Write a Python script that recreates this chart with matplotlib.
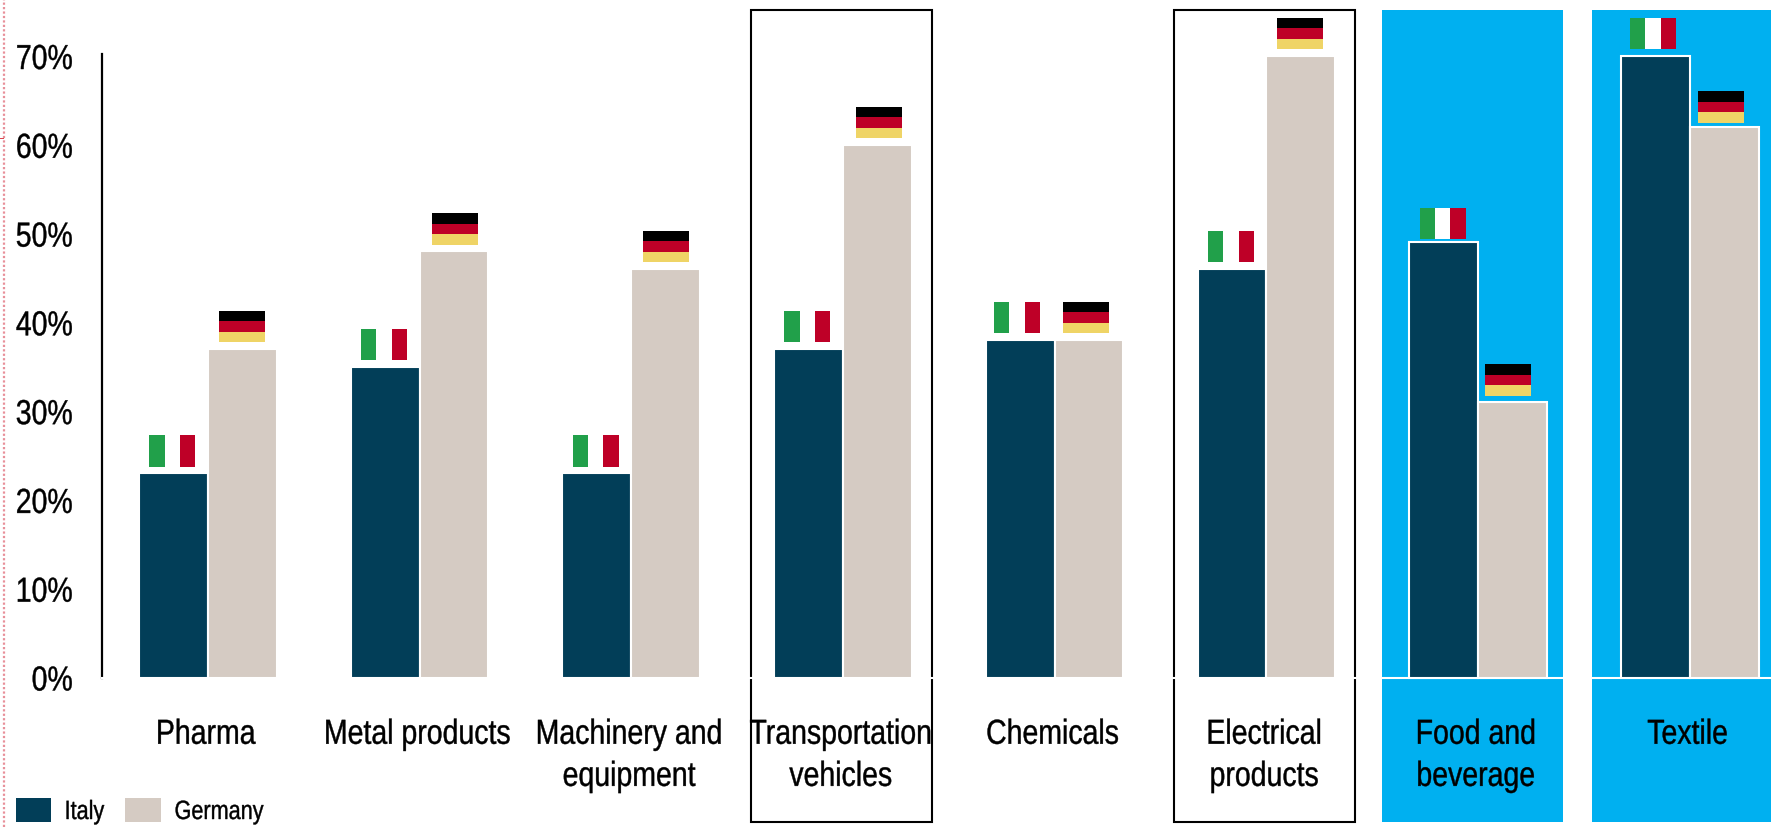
import matplotlib
matplotlib.use("Agg")
import matplotlib.pyplot as plt
from matplotlib.backends.backend_agg import RendererAgg
from matplotlib.lines import Line2D
from matplotlib.patches import Patch, Rectangle
from matplotlib.path import Path
from matplotlib.textpath import text_to_path
from matplotlib.transforms import Affine2D, blended_transform_factory

plt.rcParams["font.family"] = ["Liberation Sans", "DejaVu Sans"]

# No condensed face is installed, so all text is set as a horizontally squeezed Liberation Sans
TEXT_SQUEEZE = 0.82
_measure_text = RendererAgg.get_text_width_height_descent


def _condensed_measure(self, s, prop, ismath):
    w, h, d = _measure_text(self, s, prop, ismath)
    return w * TEXT_SQUEEZE, h, d


def _condensed_draw(self, gc, x, y, s, prop, angle, ismath=False, mtext=None):
    verts, codes = text_to_path.get_text_path(prop, s, ismath=ismath)
    k = self.points_to_pixels(prop.get_size_in_points()) / text_to_path.FONT_SCALE
    transform = Affine2D().scale(k * TEXT_SQUEEZE, k).rotate_deg(angle).translate(x, self.height - y)
    gc.set_linewidth(0.3)
    self.draw_path(gc, Path(verts, codes), transform, rgbFace=gc.get_rgb())


RendererAgg.get_text_width_height_descent = _condensed_measure
RendererAgg.draw_text = _condensed_draw

# Share of firms per sector, in percent
categories = ["Pharma", "Metal products", "Machinery and\nequipment", "Transportation\nvehicles",
              "Chemicals", "Electrical\nproducts", "Food and\nbeverage", "Textile"]
italy = [23, 35, 23, 37, 38, 46, 49, 70]
germany = [37, 48, 46, 60, 38, 70, 31, 62]
y_ticks = [0, 10, 20, 30, 40, 50, 60, 70]
y_tick_labels = ["0%", "10%", "20%", "30%", "40%", "50%", "60%", "70%"]
outlined_sectors = [3, 5]
highlighted_sectors = [6, 7]

NAVY = "#023E58"
SAND = "#D5CBC3"
BLUE = "#00B0F0"
FLAG_GREEN = "#21A04A"
FLAG_RED = "#BE0027"
FLAG_GOLD = "#EFD466"

W, H = 1771, 827
AXIS_X, ZERO_Y, TOP_Y = 102, 677.5, 56
PITCH = 211.7

fig = plt.figure(figsize=(W / 100, H / 100), dpi=100, facecolor="white")
ax = fig.add_axes([AXIS_X / W, 1 - ZERO_Y / H, 1 - AXIS_X / W, (ZERO_Y - TOP_Y) / H])
ax.patch.set_visible(False)
ax.set_xlim(-0.5, -0.5 + (W - AXIS_X) / PITCH)
ax.set_ylim(0, 70)

# Sector panels run from near the top of the figure to below the labels
panel_tf = blended_transform_factory(ax.transData, fig.transFigure)
panel_w = 181 / PITCH
panel_y0, panel_h = 1 - 821.5 / H, (821.5 - 10) / H
panel_shift = {3: -1.5, 5: -1.5, 6: -6, 7: -7}  # pixels
for i in outlined_sectors:
    ax.add_patch(Rectangle((i + panel_shift[i] / PITCH - panel_w / 2, panel_y0), panel_w, panel_h,
                           transform=panel_tf, facecolor="none", edgecolor="black", linewidth=1.5,
                           clip_on=False, zorder=0))
for i in highlighted_sectors:
    ax.add_patch(Rectangle((i + panel_shift[i] / PITCH - panel_w / 2, panel_y0), panel_w, panel_h,
                           transform=panel_tf, facecolor=BLUE, edgecolor="none",
                           clip_on=False, zorder=0))

# Paired bars with a thin white outline
bar_w = 0.325
positions = list(range(len(categories)))
ax.bar([p - bar_w / 2 for p in positions], italy, bar_w, color=NAVY, edgecolor="white",
       linewidth=1.5, clip_on=False, zorder=3)
ax.bar([p + bar_w / 2 for p in positions], germany, bar_w, color=SAND, edgecolor="white",
       linewidth=1.5, clip_on=False, zorder=3)

# Small flags sitting just above each bar; nudges are in pixels
flag_w = 46 / PITCH
flag_h = 31.5 * 70 / (ZERO_Y - TOP_Y)
flag_gap = 0.75
italy_flag_nudge_x = [0, 0, 0, 0, -2, 0, 0, -1]
germany_flag_nudge_x = [1, 2, 1, 2, -2, 0, -3, -1.5]
italy_flag_gap = [flag_gap] * 6 + [0.35, flag_gap]
germany_flag_gap = [flag_gap] * 7 + [0.5]


def italian_flag(x, base):
    for k, colour in enumerate([FLAG_GREEN, "white", FLAG_RED]):
        ax.add_patch(Rectangle((x - flag_w / 2 + k * flag_w / 3, base), flag_w / 3, flag_h,
                               facecolor=colour, edgecolor="none", clip_on=False, zorder=4))


def german_flag(x, base):
    for k, colour in enumerate([FLAG_GOLD, FLAG_RED, "black"]):
        ax.add_patch(Rectangle((x - flag_w / 2, base + k * flag_h / 3), flag_w, flag_h / 3,
                               facecolor=colour, edgecolor="none", clip_on=False, zorder=4))


for p, it, de in zip(positions, italy, germany):
    italian_flag(p - bar_w / 2 - 0.005 + 1.13 * italy_flag_nudge_x[p] / PITCH, it + italy_flag_gap[p])
    german_flag(p + bar_w / 2 - 0.005 + 1.13 * germany_flag_nudge_x[p] / PITCH, de + germany_flag_gap[p])

# Axes; the left spine runs slightly past the top tick
for side in ("top", "right"):
    ax.spines[side].set_visible(False)
ax.spines["left"].set_color("black")
ax.spines["left"].set_linewidth(1.6)
ax.spines["left"].set_bounds(0, 70.25)
ax.spines["bottom"].set_color("white")
ax.spines["bottom"].set_linewidth(1.5)
ax.set_yticks(y_ticks, y_tick_labels, fontsize=25, color="black")
ax.set_xticks([p - 0.01 for p in positions], categories, fontsize=25, color="black", linespacing=1.35)
ax.tick_params(axis="y", length=0, pad=21)
ax.tick_params(axis="x", length=0, pad=29)
for label in ax.get_xticklabels():
    label.set_multialignment("center")

# Legend
handles = [Patch(facecolor=NAVY, edgecolor="none", label="Italy"),
           Patch(facecolor=SAND, edgecolor="none", label="Germany")]
fig.legend(handles=handles, loc="lower left", bbox_to_anchor=(15.5 / W, 3 / H), ncol=2, frameon=False,
           fontsize=19, handlelength=1.36, handleheight=0.98, handletextpad=0.5, columnspacing=0.8,
           borderpad=0, borderaxespad=0)

# Dotted guide along the left edge of the page
fig.add_artist(Line2D([4 / W, 4 / W], [0, 1], transform=fig.transFigure, color="#E8909A",
                      linewidth=1.6, linestyle=(0, (1, 1))))
fig.add_artist(Line2D([0, 3 / W], [1 - 138 / H, 1 - 138 / H], transform=fig.transFigure,
                      color="#D9404A", linewidth=0.7))

fig.savefig("out.png", dpi=100, facecolor="white")
